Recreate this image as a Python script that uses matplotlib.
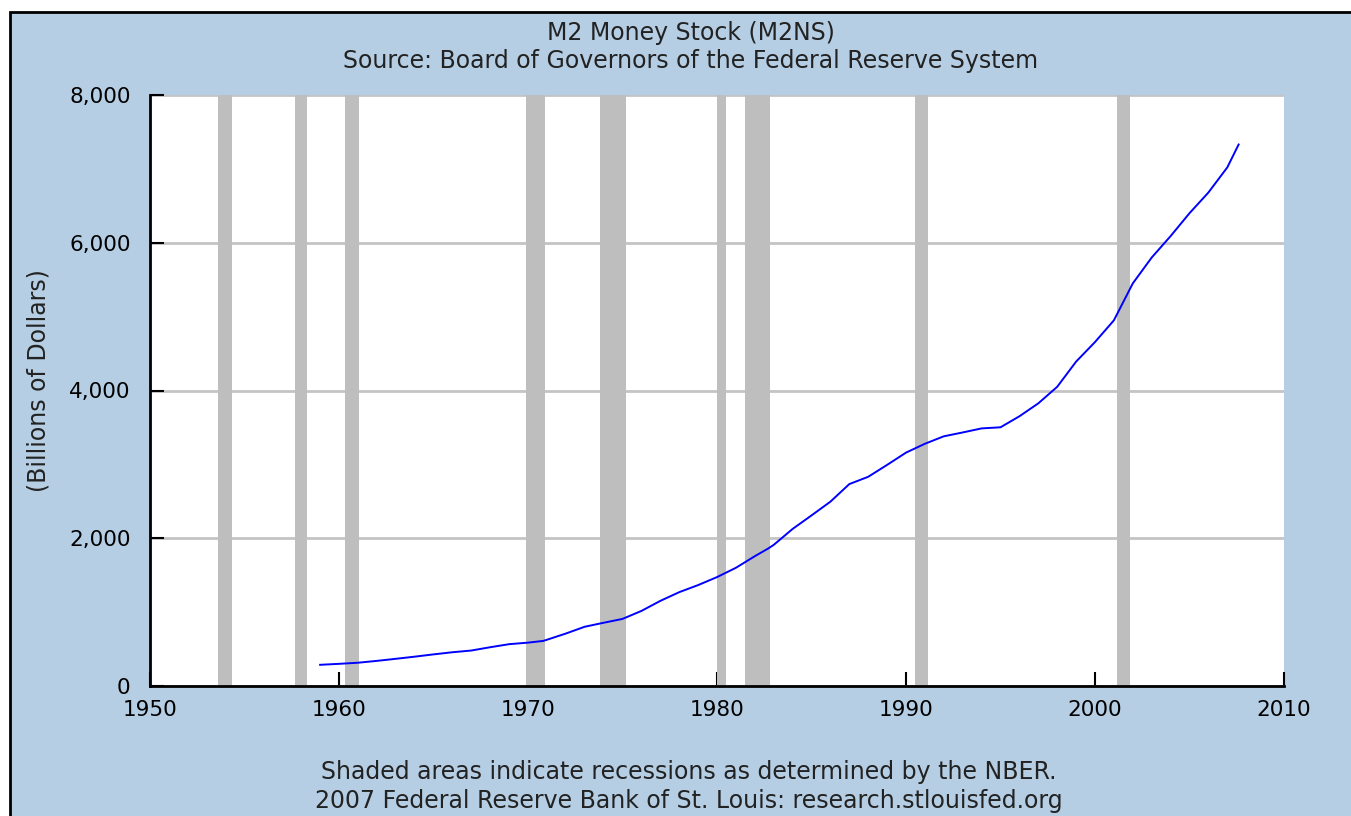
import numpy as np
import matplotlib
matplotlib.use('Agg')
from matplotlib import pyplot as plt
from matplotlib.patches import Rectangle

# M2 money stock, billions of dollars
years = [1959.0, 1960.0, 1961.0, 1962.0, 1963.0, 1964.0, 1965.0, 1966.0, 1967.0, 1968.0,
         1969.0, 1970.0, 1970.8, 1971.0, 1972.0, 1973.0, 1974.0, 1975.0, 1976.0, 1977.0,
         1978.0, 1979.0, 1980.0, 1981.0, 1982.0, 1982.7, 1983.0, 1984.0, 1985.0, 1986.0,
         1987.0, 1988.0, 1989.0, 1990.0, 1991.0, 1992.0, 1993.0, 1994.0, 1995.0, 1996.0,
         1997.0, 1998.0, 1999.0, 2000.0, 2001.0, 2002.0, 2003.0, 2004.0, 2005.0, 2006.0,
         2007.0, 2007.6]
m2 = [287, 300, 315, 340, 368, 397, 428, 457, 480, 525,
      566, 587, 610, 626, 710, 802, 856, 908, 1016, 1152,
      1270, 1366, 1474, 1600, 1757, 1860, 1910, 2126, 2309, 2495,
      2733, 2832, 2993, 3159, 3279, 3380, 3432, 3487, 3502, 3651,
      3826, 4050, 4391, 4656, 4950, 5450, 5800, 6090, 6400, 6680,
      7020, 7330]

# NBER recessions (start, end)
rec_start = [1953.58, 1957.67, 1960.33, 1969.92, 1973.83, 1980.0, 1981.5, 1990.5, 2001.17]
rec_end = [1954.33, 1958.33, 1961.08, 1970.92, 1975.17, 1980.5, 1982.83, 1991.17, 2001.83]

xticks = [1950, 1960, 1970, 1980, 1990, 2000, 2010]
yticks = [0, 2000, 4000, 6000, 8000]

bg = '#b5cee4'
txt = '#222222'
fig = plt.figure(figsize=(13.51, 8.16), dpi=100, facecolor='white')
fig.patches.append(Rectangle((10/1351, -0.05), 1.1, 1 - 12/816 + 0.05,
                             transform=fig.transFigure, facecolor=bg,
                             edgecolor='black', linewidth=2, zorder=-10))

ax = fig.add_axes([150/1351, 1 - 686/816, (1284-150)/1351, (686-95)/816])
ax.set_facecolor('white')

for s, e in zip(rec_start, rec_end):
    ax.axvspan(s, e, color='#bebebe', lw=0, zorder=1)

ax.set_xlim(1950, 2010)
ax.set_ylim(0, 8000)
ax.set_xticks(xticks)
ax.set_yticks(yticks)
ax.set_yticklabels(['{:,}'.format(v) for v in yticks])
ax.yaxis.grid(True, color='#c4c4c4', linewidth=2, zorder=0)
ax.set_axisbelow(True)

ax.plot(years, m2, color='#0000ff', linewidth=1.4, zorder=3)

for sp in ['top', 'right']:
    ax.spines[sp].set_visible(False)
for sp in ['left', 'bottom']:
    ax.spines[sp].set_linewidth(2)
    ax.spines[sp].set_zorder(4)

ax.tick_params(axis='x', direction='in', length=10, width=1.5, pad=10,
               labelsize=15.5, colors='black')
ax.tick_params(axis='y', direction='in', length=10, width=1.5, pad=14,
               labelsize=15.5, colors='black')

ax.set_ylabel('(Billions of Dollars)', fontsize=17, color=txt)
ax.yaxis.set_label_coords(-(150 - 51) / 1134, (686 - 381) / 591)

fig.text(691/1351, 1 - 33/816, 'M2 Money Stock (M2NS)', ha='center', va='center',
         fontsize=17, color=txt)
fig.text(691/1351, 1 - 61/816, 'Source: Board of Governors of the Federal Reserve System',
         ha='center', va='center', fontsize=17, color=txt)
fig.text(689/1351, 1 - 772/816, 'Shaded areas indicate recessions as determined by the NBER.',
         ha='center', va='center', fontsize=17, color=txt)
fig.text(689/1351, 1 - 801/816, '2007 Federal Reserve Bank of St. Louis: research.stlouisfed.org',
         ha='center', va='center', fontsize=17, color=txt)

fig.savefig('out.png', dpi=100, facecolor=fig.get_facecolor())
